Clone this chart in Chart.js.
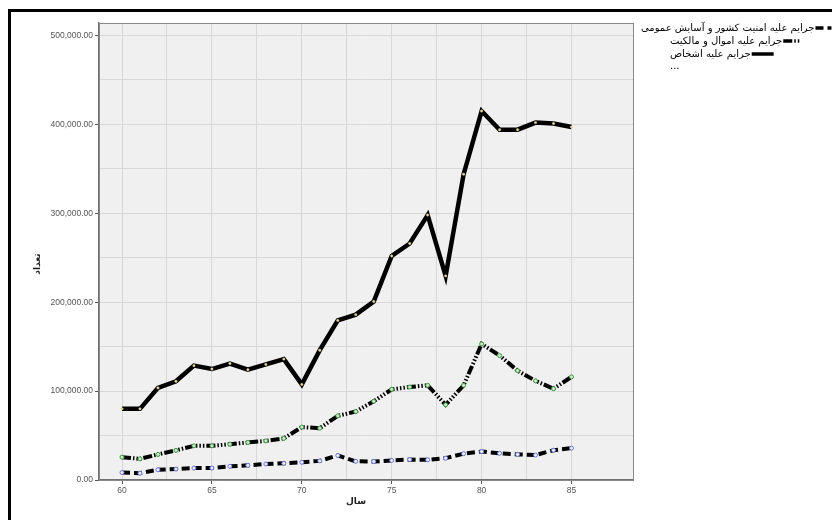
<!DOCTYPE html>
<html>
<head>
<meta charset="utf-8">
<script src="https://cdn.jsdelivr.net/npm/chart.js@4"></script>
<style>
  html, body { margin: 0; padding: 0; background: #fff; }
  #wrap { width: 832px; height: 520px; }
</style>
</head>
<body>
<div id="wrap"><canvas id="chart" width="832" height="520"></canvas></div>
<script>
const years = [60, 61, 62, 63, 64, 65, 66, 67, 68, 69, 70, 71, 72, 73, 74, 75, 76, 77, 78, 79, 80, 81, 82, 83, 84, 85];
const securityCrimes = [8400, 7700, 11500, 12300, 13400, 13400, 15400, 16500, 18000, 18800, 20000, 21500, 27600, 21000, 20800, 22000, 23000, 22700, 24600, 29600, 32000, 30000, 28800, 28000, 33500, 35800];
const propertyCrimes = [25700, 23800, 28800, 33400, 38400, 38400, 40300, 42200, 44000, 46800, 59500, 58300, 72200, 77000, 88500, 102000, 104600, 106500, 84600, 106500, 153000, 140000, 123000, 111500, 102700, 116000];
const personCrimes = [80000, 80000, 103600, 111000, 128600, 124800, 131000, 124000, 130000, 136000, 107500, 146000, 179500, 186000, 200800, 252000, 266000, 298000, 229600, 344000, 415000, 394000, 394000, 402000, 401000, 397000];
const seriesNames = ["جرایم علیه امنیت کشور و آسایش عمومی", "جرایم علیه اموال و مالکیت", "جرایم علیه اشخاص"];
const xTicks = [60, 62.5, 65, 67.5, 70, 72.5, 75, 77.5, 80, 82.5, 85];
const yTicks = [0, 50000, 100000, 150000, 200000, 250000, 300000, 350000, 400000, 450000, 500000];

const dashes = [[8, 4], [9, 2, 1.5, 2, 1.5, 2, 1.5, 2], []];

function pts(vals) {
  return years.map((y, i) => ({ x: y, y: vals[i] }));
}

const fmt = v => v.toLocaleString("en-US", { minimumFractionDigits: 2, maximumFractionDigits: 2 });

const frame = {
  id: "frame",
  beforeDraw(chart) {
    const { ctx, chartArea: a } = chart;
    ctx.save();
    ctx.fillStyle = "#f0f0f0";
    ctx.fillRect(a.left, a.top, a.right - a.left, a.bottom - a.top);
    ctx.restore();
  },
  afterDraw(chart) {
    const { ctx, chartArea: a } = chart;
    ctx.save();
    // plot border
    ctx.strokeStyle = "#8a8a8a";
    ctx.lineWidth = 1;
    ctx.strokeRect(a.left + 0.5, a.top + 0.5, a.right - a.left, a.bottom - a.top);
    // outer frame
    ctx.strokeStyle = "#000";
    ctx.lineWidth = 3;
    ctx.beginPath();
    ctx.moveTo(9.5, 522);
    ctx.lineTo(9.5, 10.5);
    ctx.lineTo(834, 10.5);
    ctx.stroke();

    // axis titles
    ctx.fillStyle = "#222";
    ctx.font = "bold 9px 'DejaVu Sans'";
    ctx.textAlign = "center";
    ctx.textBaseline = "middle";
    ctx.fillText("سال", 356, 502);
    ctx.translate(38, 264);
    ctx.rotate(-Math.PI / 2);
    ctx.fillText("تعداد", 0, 0);
    ctx.restore();

    // legend: text then its line sample
    ctx.save();
    ctx.font = "10px 'DejaVu Sans'";
    ctx.textBaseline = "middle";
    ctx.textAlign = "left";
    ctx.fillStyle = "#000";
    const rows = [28, 41, 54];
    const lefts = [641, 670, 670];
    const lens = [16, 16, 22];
    seriesNames.forEach((name, i) => {
      const y = rows[i];
      const w = ctx.measureText(name).width;
      ctx.fillText(name, lefts[i], y);
      const sx = lefts[i] + w + 1;
      ctx.strokeStyle = "#000";
      ctx.lineWidth = 3.5;
      ctx.setLineDash(dashes[i]);
      ctx.beginPath();
      ctx.moveTo(sx, y);
      ctx.lineTo(sx + lens[i], y);
      ctx.stroke();
      ctx.setLineDash([]);
    });
    ctx.fillText("...", 670, 66);
    ctx.restore();
  }
};

new Chart(document.getElementById("chart"), {
  type: "line",
  data: {
    datasets: [
      {
        label: seriesNames[0],
        data: pts(securityCrimes),
        borderColor: "#000",
        borderWidth: 4,
        borderDash: dashes[0],
        pointRadius: 2,
        pointBorderWidth: 1,
        pointBorderColor: "#6a78d8",
        pointBackgroundColor: "#eef0ff",
        tension: 0
      },
      {
        label: seriesNames[1],
        data: pts(propertyCrimes),
        borderColor: "#000",
        borderWidth: 4,
        borderDash: dashes[1],
        pointRadius: 2,
        pointBorderWidth: 1,
        pointBorderColor: "#3c9a3c",
        pointBackgroundColor: "#cfe8cf",
        tension: 0
      },
      {
        label: seriesNames[2],
        data: pts(personCrimes),
        borderColor: "#000",
        borderWidth: 4.5,
        pointRadius: 1.2,
        pointBorderWidth: 0.5,
        pointBorderColor: "#c8c080",
        pointBackgroundColor: "#e8e0a8",
        tension: 0
      }
    ]
  },
  options: {
    responsive: false,
    animation: false,
    events: [],
    layout: { padding: { left: 0, top: 23, right: 199, bottom: 0 } },
    plugins: { legend: { display: false }, tooltip: { enabled: false } },
    scales: {
      x: {
        type: "linear",
        min: 58.72,
        max: 88.42,
        afterFit: s => { s.height = 40; },
        afterBuildTicks: s => { s.ticks = xTicks.map(v => ({ value: v })); },
        border: { color: "#707070", width: 1.5 },
        grid: {
          color: "#d8d8d8",
          lineWidth: 1,
          tickLength: 4,
          tickColor: c => (c.tick && c.tick.value % 5 === 0 ? "#555" : "rgba(0,0,0,0)")
        },
        ticks: {
          autoSkip: false,
          maxRotation: 0,
          padding: 2,
          color: "#555",
          font: { family: "'Liberation Sans'", size: 8.5 },
          callback: v => (v % 5 === 0 ? String(v) : "")
        }
      },
      y: {
        min: 0,
        max: 514000,
        afterFit: s => { s.width = 99; },
        afterBuildTicks: s => { s.ticks = yTicks.map(v => ({ value: v })); },
        border: { color: "#707070", width: 1.5 },
        grid: {
          color: "#d8d8d8",
          lineWidth: 1,
          tickLength: 4,
          tickColor: c => (c.tick && c.tick.value % 100000 === 0 ? "#555" : "rgba(0,0,0,0)")
        },
        ticks: {
          padding: 2,
          color: "#555",
          font: { family: "'Liberation Sans'", size: 8.5 },
          callback: v => (v % 100000 === 0 ? fmt(v) : "")
        }
      }
    }
  },
  plugins: [frame]
});
</script>
</body>
</html>
